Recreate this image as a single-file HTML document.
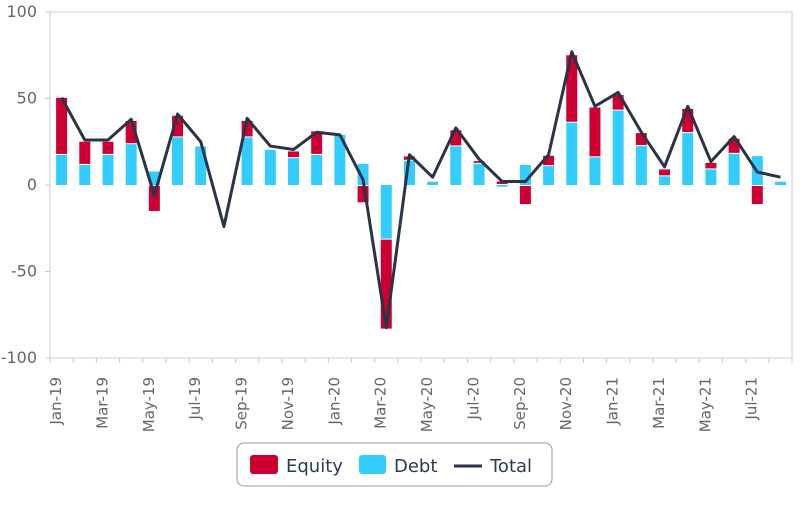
<!DOCTYPE html>
<html><head><meta charset="utf-8"><style>
body{margin:0;background:#fff;}
svg text{font-family:"DejaVu Sans","Liberation Sans",sans-serif;}
</style></head><body>
<svg width="809" height="509" xmlns="http://www.w3.org/2000/svg">
<g id="plot"></g>
</svg>
<script>
const eq=[33,13.4,7.6,13.4,-15,12.5,0,0,9.5,0,3.9,13.6,0,-10,-52,2.5,0,9.3,1.6,2,-11,6,39,28.8,9,7.5,4,14,3.8,8.7,-11,0];
const de=[17.4,11.6,17.4,23.6,7.8,27.5,22.3,0,27.5,20.3,15.5,17.4,29,12.2,-31,14,1.9,22.3,12.2,-1,11.6,10.9,36,16,43,22.5,5,30,9,18,16.7,1.9];
const tot=[50.5,26,26,38,-6,41,25,-24,38.5,22.5,20.5,30.5,29,3,-82.5,17.5,4.5,33,15,2,2,17.5,77,45.5,53.5,30.5,10.5,45.5,13.5,28,7.5,4.5];
const Y=v=>185-v*1.73, X=i=>50+23.19*(i+0.5);
let s='';
s+='<rect x="50" y="12" width="742" height="346" fill="none" stroke="#d0d4dc" stroke-width="1.2"/>';
[[100,12],[50,98.5],[0,185],[-50,271.5],[-100,358]].forEach(([v,y])=>{
 s+=`<line x1="45" x2="50" y1="${y}" y2="${y}" stroke="#c8ccd6"/>`;
 s+=`<text x="37" y="${y+5}" font-size="16" fill="#666" text-anchor="end">${v}</text>`;});
for(let i=0;i<=32;i++){const x=50+23.19*i;s+=`<line x1="${x}" x2="${x}" y1="358" y2="363" stroke="#c8ccd6"/>`;}
const mn=['Jan','Mar','May','Jul','Sep','Nov'];
for(let k=0;k<16;k++){const x=50+46.38*k+11;const lab=mn[k%6]+'-'+(19+Math.floor(k/6));
 s+=`<text transform="translate(${x},377) rotate(-90)" font-size="15" fill="#666" text-anchor="end">${lab}</text>`;}
for(let i=0;i<32;i++){const x=X(i)-5.5,w=11;const d=de[i],e=eq[i];
 if(d>0)s+=`<rect x="${x}" y="${Y(d)}" width="${w}" height="${d*1.73}" fill="#33ccff"/>`;
 else if(d<0)s+=`<rect x="${x}" y="185" width="${w}" height="${-d*1.73}" fill="#33ccff"/>`;
 if(e>0){const b=Math.max(d,0);s+=`<rect x="${x}" y="${Y(b+e)}" width="${w}" height="${e*1.73-1}" fill="#cc0033"/>`;}
 else if(e<0){const b=Math.min(d,0);s+=`<rect x="${x}" y="${Y(b)+1}" width="${w}" height="${-e*1.73-1}" fill="#cc0033"/>`;}}
s+='<polyline fill="none" stroke="#2b3347" stroke-width="3" stroke-linejoin="round" points="'+tot.map((v,i)=>X(i)+','+Y(v)).join(' ')+'"/>';
s+='<rect x="237" y="443" width="315" height="43" rx="7" fill="#fff" stroke="#999"/>';
s+='<rect x="250" y="455" width="28" height="19" rx="3" fill="#cc0033"/><text x="286" y="472" font-size="18" fill="#2b3a55">Equity</text>';
s+='<rect x="359" y="455" width="27" height="19" rx="3" fill="#33ccff"/><text x="394" y="472" font-size="18" fill="#2b3a55">Debt</text>';
s+='<line x1="454" x2="482" y1="466" y2="466" stroke="#2b3347" stroke-width="3"/><text x="490" y="472" font-size="18" fill="#2b3a55">Total</text>';
document.getElementById('plot').innerHTML=s;
</script>
</body></html>
